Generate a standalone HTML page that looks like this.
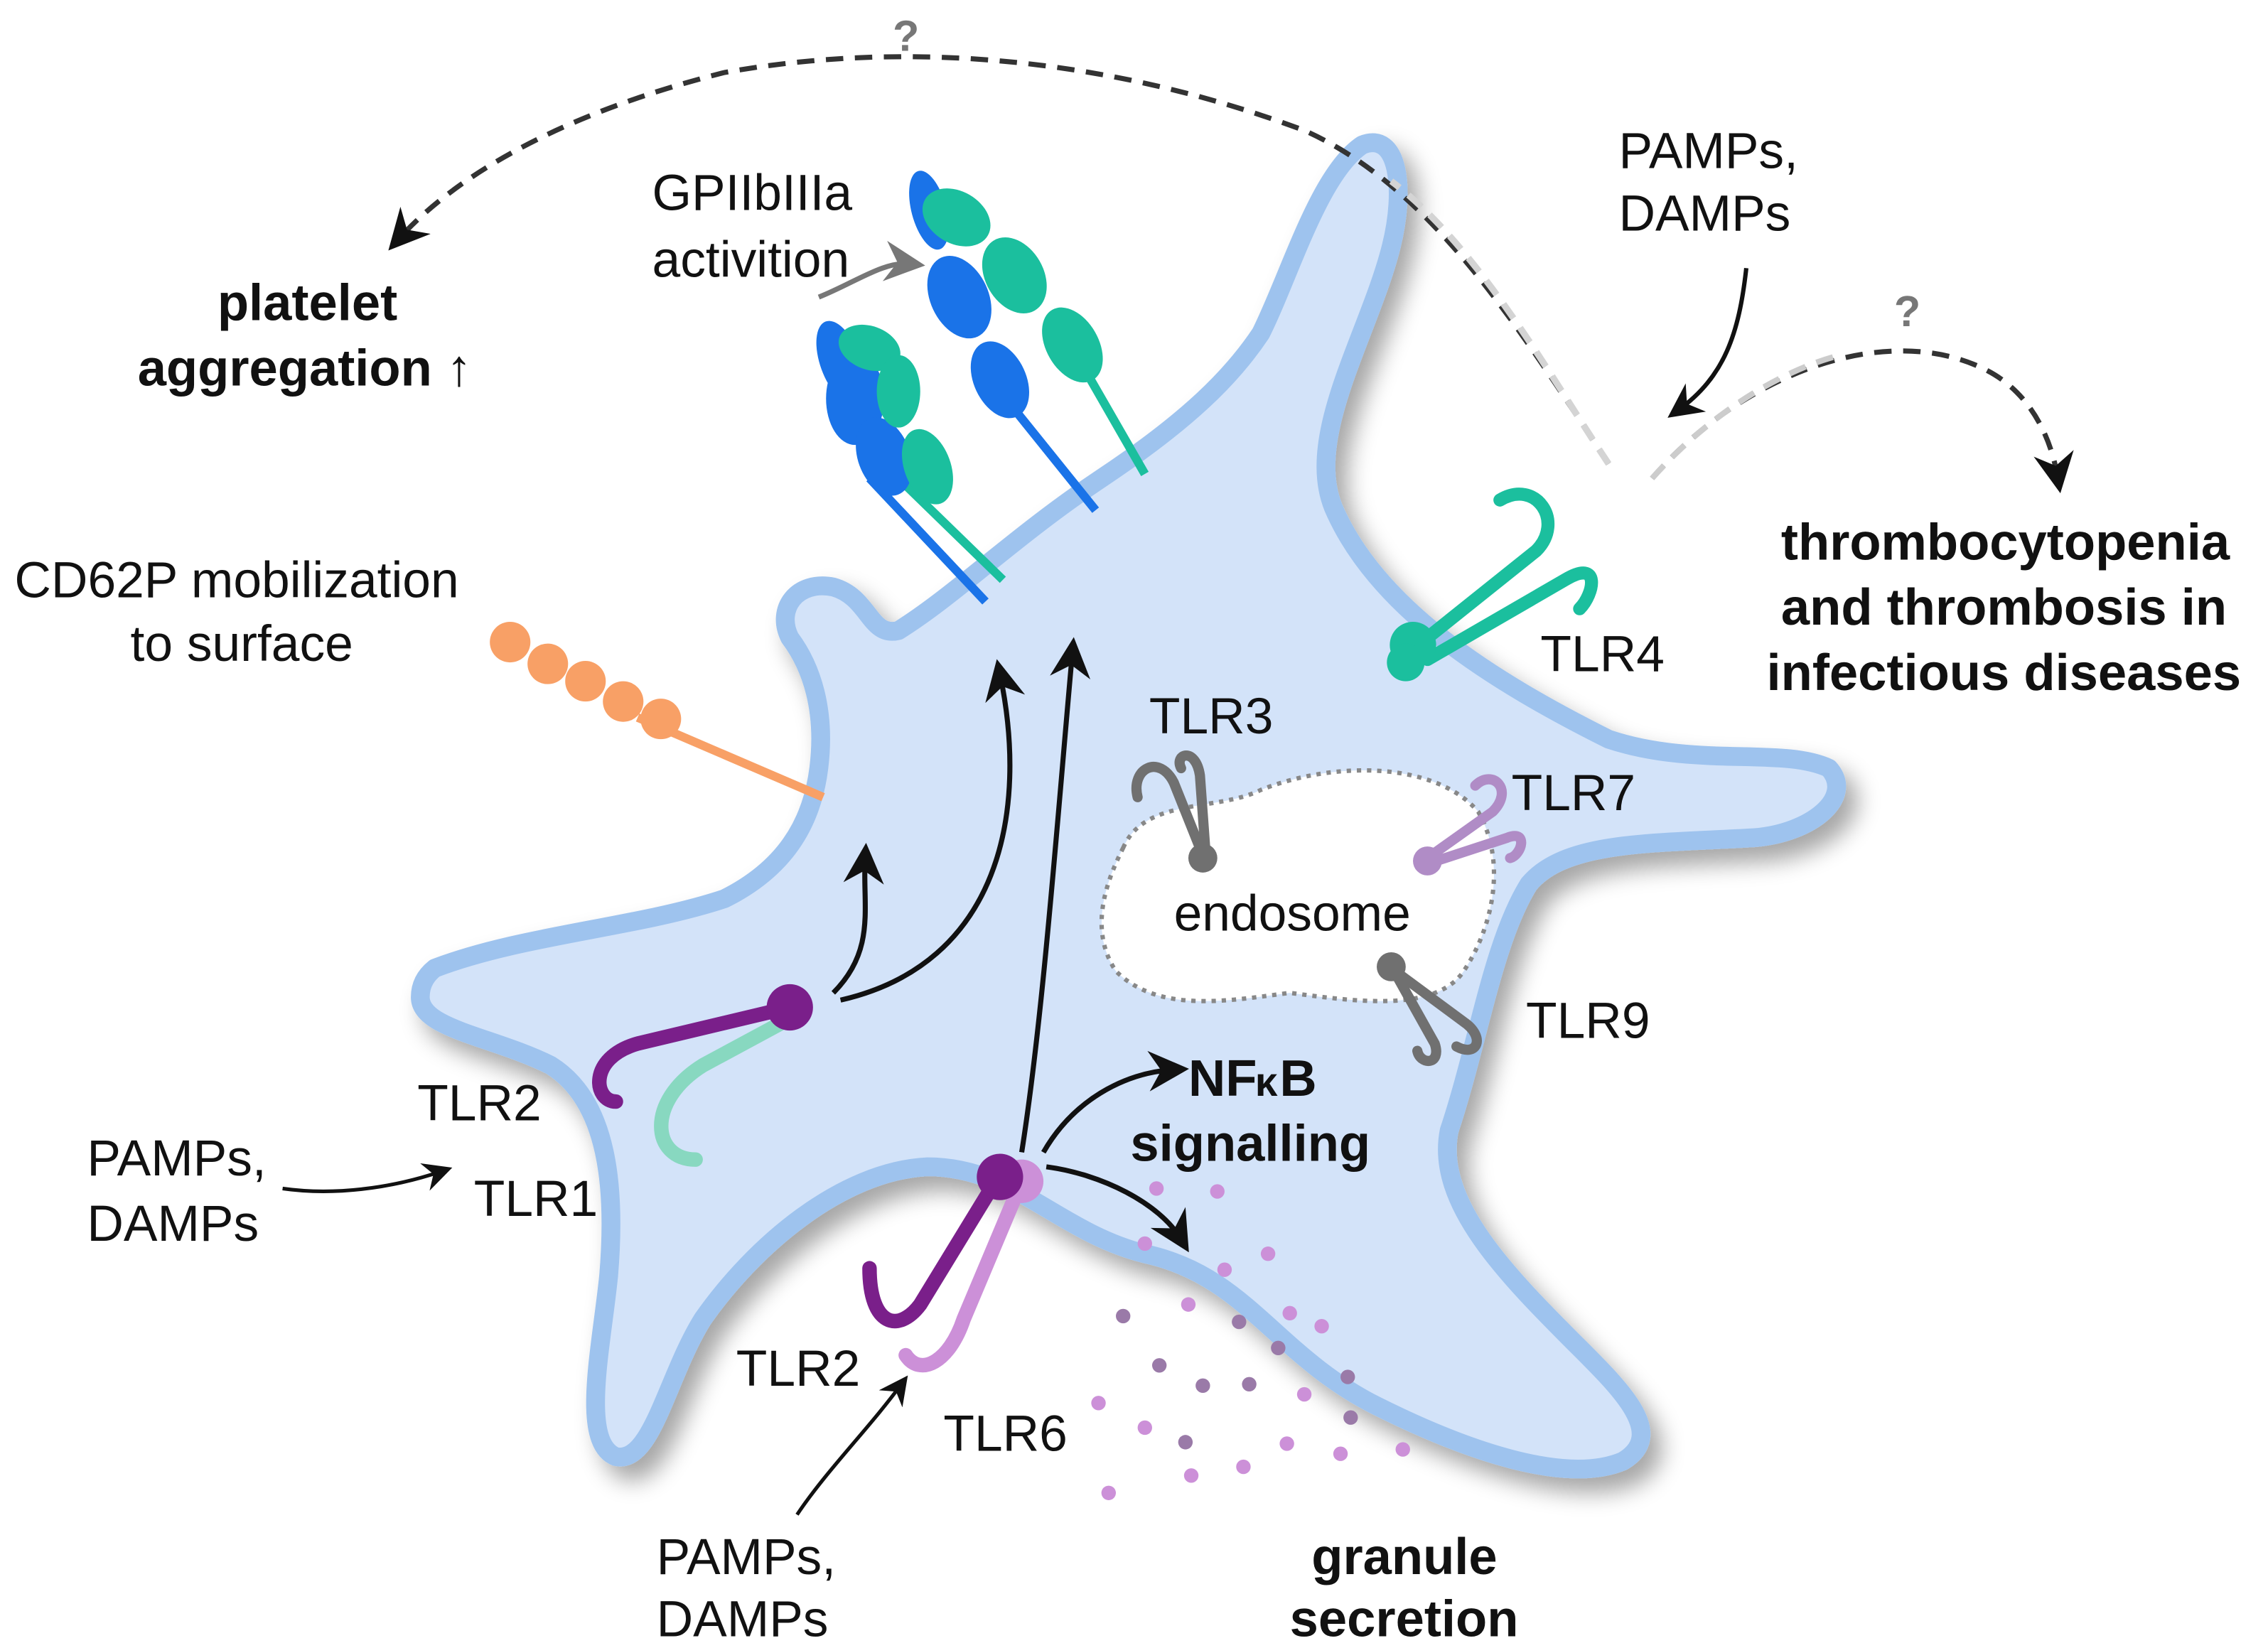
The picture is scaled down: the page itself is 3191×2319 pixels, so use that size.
<!DOCTYPE html>
<html><head><meta charset="utf-8"><style>
html,body{margin:0;padding:0;background:#fff;width:3191px;height:2319px;overflow:hidden}
svg{display:block}
text{font-family:"Liberation Sans",Arial,sans-serif;fill:#111;font-size:35px}
.b{font-weight:bold;font-size:35.5px}
</style></head><body>
<svg width="3191" height="2319" viewBox="0 0 1565 1137" preserveAspectRatio="none" xmlns="http://www.w3.org/2000/svg">
<defs>
<marker id="ah" markerWidth="8" markerHeight="8" refX="5" refY="4" orient="auto" markerUnits="strokeWidth"><path d="M0,0 L8,4 L0,8 L2.5,4 z" fill="#111"/></marker>
<marker id="ahg" markerWidth="8" markerHeight="8" refX="5" refY="4" orient="auto" markerUnits="strokeWidth"><path d="M0,0 L8,4 L0,8 L2.5,4 z" fill="#777"/></marker>
<filter id="sh" x="-10%" y="-10%" width="130%" height="130%"><feGaussianBlur in="SourceAlpha" stdDeviation="8"/><feOffset dx="8" dy="10"/><feComponentTransfer><feFuncA type="linear" slope="0.35"/></feComponentTransfer><feMerge><feMergeNode/><feMergeNode in="SourceGraphic"/></feMerge></filter>
</defs>
<path filter="url(#sh)" fill="#d3e3f9" stroke="#9ec3ee" stroke-width="13" stroke-linejoin="round" d="M300,668 C360,645 440,640 500,620 C540,600 560,570 565,530 C570,490 560,460 545,440 C535,420 550,400 575,405 C600,412 600,440 620,435 C660,410 700,370 760,330 C820,290 850,260 870,230 C890,190 910,120 940,100 C965,90 970,130 960,170 C945,230 900,300 920,350 C950,420 1030,470 1110,510 C1170,530 1230,515 1262,530 C1280,550 1250,575 1210,578 C1140,582 1080,580 1055,610 C1030,650 1020,720 1000,780 C990,830 1040,880 1090,930 C1120,960 1150,990 1120,1008 C1080,1025 1010,1000 950,970 C880,935 860,880 790,865 C730,850 700,805 640,805 C580,808 520,860 485,910 C460,950 450,1010 425,1005 C400,995 415,930 420,880 C425,820 420,760 380,735 C340,715 290,710 290,688 C290,678 295,672 300,668 Z"/>
<path d="M775,585 C790,550 840,560 870,545 C920,525 990,525 1020,560 C1040,595 1030,640 1010,670 C990,700 930,690 890,685 C850,690 800,700 770,670 C750,640 765,605 775,585 Z" fill="#fff" stroke="#888" stroke-width="3" stroke-dasharray="3,4"/>
<text x="810" y="642">endosome</text>
<g>
<line x1="600" y1="330" x2="680" y2="415" stroke="#1a73e8" stroke-width="6"/>
<line x1="620" y1="330" x2="692" y2="400" stroke="#1bbf9e" stroke-width="6"/>
<ellipse cx="580" cy="250" rx="14" ry="30" fill="#1a73e8" transform="rotate(-20 580 250)"/>
<ellipse cx="590" cy="275" rx="20" ry="32" fill="#1a73e8"/>
<ellipse cx="610" cy="315" rx="18" ry="28" fill="#1a73e8" transform="rotate(-20 610 315)"/>
<ellipse cx="600" cy="240" rx="22" ry="15" fill="#1bbf9e" transform="rotate(20 600 240)"/>
<ellipse cx="620" cy="270" rx="15" ry="25" fill="#1bbf9e"/>
<ellipse cx="640" cy="322" rx="16" ry="27" fill="#1bbf9e" transform="rotate(-20 640 322)"/>
<line x1="690" y1="270" x2="756" y2="352" stroke="#1a73e8" stroke-width="6"/>
<line x1="740" y1="240" x2="790" y2="327" stroke="#1bbf9e" stroke-width="6"/>
<ellipse cx="641" cy="145" rx="12" ry="28" fill="#1a73e8" transform="rotate(-15 641 145)"/>
<ellipse cx="662" cy="205" rx="20" ry="30" fill="#1a73e8" transform="rotate(-25 662 205)"/>
<ellipse cx="690" cy="262" rx="18" ry="28" fill="#1a73e8" transform="rotate(-25 690 262)"/>
<ellipse cx="660" cy="150" rx="25" ry="18" fill="#1bbf9e" transform="rotate(30 660 150)"/>
<ellipse cx="700" cy="190" rx="20" ry="28" fill="#1bbf9e" transform="rotate(-30 700 190)"/>
<ellipse cx="740" cy="238" rx="18" ry="28" fill="#1bbf9e" transform="rotate(-30 740 238)"/>
</g>
<line x1="440" y1="495" x2="568" y2="550" stroke="#f8a066" stroke-width="6"/>
<g fill="#f8a066"><circle cx="352" cy="443" r="14"/><circle cx="378" cy="458" r="14"/><circle cx="404" cy="470" r="14"/><circle cx="430" cy="484" r="14"/><circle cx="456" cy="496" r="14"/></g>
<g fill="none" stroke="#1bbf9e" stroke-width="9" stroke-linecap="round">
<path d="M975,448 L1060,380 C1080,360 1060,330 1035,345"/>
<path d="M985,455 L1080,400 C1105,385 1100,410 1090,420"/>
</g>
<circle cx="975" cy="445" r="16" fill="#1bbf9e"/><circle cx="970" cy="457" r="13" fill="#1bbf9e"/>
<text x="1063" y="463">TLR4</text>
<g fill="none" stroke="#707070" stroke-width="7" stroke-linecap="round"><path d="M830,590 L810,540 C800,520 780,530 785,550"/><path d="M832,590 L828,535 C825,515 810,520 815,530"/></g>
<circle cx="830" cy="592" r="10" fill="#707070"/>
<text x="793" y="506">TLR3</text>
<g fill="none" stroke="#b08cc6" stroke-width="7" stroke-linecap="round"><path d="M985,592 L1030,560 C1045,545 1030,530 1018,542"/><path d="M988,595 L1040,578 C1055,572 1050,590 1042,592"/></g>
<circle cx="985" cy="594" r="10" fill="#b08cc6"/>
<text x="1043" y="559">TLR7</text>
<g fill="none" stroke="#707070" stroke-width="7" stroke-linecap="round"><path d="M960,668 L1010,705 C1025,715 1020,730 1005,722"/><path d="M962,670 L990,720 C995,735 980,735 978,725"/></g>
<circle cx="960" cy="667" r="10" fill="#707070"/>
<text x="1053" y="716">TLR9</text>
<g fill="none" stroke-linecap="round" stroke-width="10">
<path d="M550,700 L485,735 C445,760 450,800 480,800" stroke="#88d8c0"/>
<path d="M545,695 L440,720 C405,730 410,760 425,760" stroke="#7a1f8a"/>
</g>
<circle cx="545" cy="695" r="16" fill="#7a1f8a"/>
<g fill="none" stroke-linecap="round" stroke-width="10">
<path d="M705,815 L665,910 C655,940 635,950 625,935" stroke="#cc90d8"/>
<path d="M690,810 L635,900 C620,920 600,915 600,875" stroke="#7a1f8a"/>
</g>
<circle cx="705" cy="815" r="15" fill="#cc90d8"/>
<circle cx="690" cy="812" r="16" fill="#7a1f8a"/>
<g fill="none" stroke="#111" stroke-width="3.5" marker-end="url(#ah)">
<path d="M575,685 C605,655 595,625 597,592"/>
<path d="M580,690 C690,665 710,560 690,465"/>
<path d="M705,795 C720,700 730,560 740,450"/>
<path d="M720,795 C740,760 775,740 810,738"/>
<path d="M722,805 C760,810 800,830 815,855"/>
</g>
<text class="b" x="820" y="756">NF</text><text class="b" x="866" y="756" style="font-size:28px">κ</text><text class="b" x="883" y="756">B</text>
<text class="b" x="780" y="801">signalling</text>
<g fill="#cc90d8"><circle cx="798" cy="820" r="5"/><circle cx="840" cy="822" r="5"/><circle cx="790" cy="858" r="5"/><circle cx="845" cy="876" r="5"/><circle cx="875" cy="865" r="5"/><circle cx="820" cy="900" r="5"/><circle cx="890" cy="906" r="5"/><circle cx="912" cy="915" r="5"/><circle cx="758" cy="968" r="5"/><circle cx="790" cy="985" r="5"/><circle cx="900" cy="962" r="5"/><circle cx="888" cy="996" r="5"/><circle cx="925" cy="1003" r="5"/><circle cx="968" cy="1000" r="5"/><circle cx="858" cy="1012" r="5"/><circle cx="822" cy="1018" r="5"/><circle cx="765" cy="1030" r="5"/></g>
<g fill="#9a7aa8"><circle cx="775" cy="908" r="5"/><circle cx="855" cy="912" r="5"/><circle cx="882" cy="930" r="5"/><circle cx="800" cy="942" r="5"/><circle cx="830" cy="956" r="5"/><circle cx="862" cy="955" r="5"/><circle cx="930" cy="950" r="5"/><circle cx="932" cy="978" r="5"/><circle cx="818" cy="995" r="5"/></g>
<text x="10" y="412">CD62P mobilization</text>
<text x="90" y="456">to surface</text>
<text x="450" y="145">GPIIbIIIa</text>
<text x="450" y="191">activition</text>
<path d="M565,205 C590,195 610,180 628,182" fill="none" stroke="#777" stroke-width="3.5" marker-end="url(#ahg)"/>
<text class="b" x="150" y="221">platelet</text>
<text class="b" x="95" y="266">aggregation ↑</text>
<text x="1117" y="116">PAMPs,</text>
<text x="1117" y="159">DAMPs</text>
<path d="M1205,185 C1200,230 1190,260 1158,283" fill="none" stroke="#111" stroke-width="3" marker-end="url(#ah)"/>
<text class="b" x="1229" y="386">thrombocytopenia</text>
<text class="b" x="1229" y="431">and thrombosis in</text>
<text class="b" x="1219" y="476">infectious diseases</text>
<text x="288" y="773">TLR2</text>
<text x="327" y="839">TLR1</text>
<text x="60" y="811">PAMPs,</text>
<text x="60" y="856">DAMPs</text>
<path d="M195,820 C230,825 270,820 305,808" fill="none" stroke="#111" stroke-width="2.5" marker-end="url(#ah)"/>
<text x="508" y="956">TLR2</text>
<text x="651" y="1001">TLR6</text>
<text x="453" y="1086">PAMPs,</text>
<text x="453" y="1129">DAMPs</text>
<path d="M550,1045 C570,1015 600,985 622,955" fill="none" stroke="#111" stroke-width="2.5" marker-end="url(#ah)"/>
<text class="b" x="905" y="1086">granule</text>
<text class="b" x="890" y="1129">secretion</text>
<path d="M1110,320 C1050,230 990,130 900,90 C780,45 640,25 500,50 C400,75 320,115 275,165" fill="none" stroke="#333" stroke-width="3.5" stroke-dasharray="12,8" marker-end="url(#ah)"/>
<path d="M1110,320 C1070,260 1020,170 960,125" fill="none" stroke="#d4d4d4" stroke-width="4.5" stroke-dasharray="12,8"/>
<text x="616" y="35" style="font-size:30px;font-weight:bold;fill:#777">?</text>
<path d="M1140,330 C1200,260 1300,220 1370,255 C1400,270 1415,300 1420,330" fill="none" stroke="#333" stroke-width="3.5" stroke-dasharray="12,8" marker-end="url(#ah)"/>
<path d="M1140,330 C1180,285 1230,255 1270,245" fill="none" stroke="#ccc" stroke-width="4" stroke-dasharray="12,8"/>
<text x="1307" y="225" style="font-size:30px;font-weight:bold;fill:#777">?</text>
</svg>
</body></html>
